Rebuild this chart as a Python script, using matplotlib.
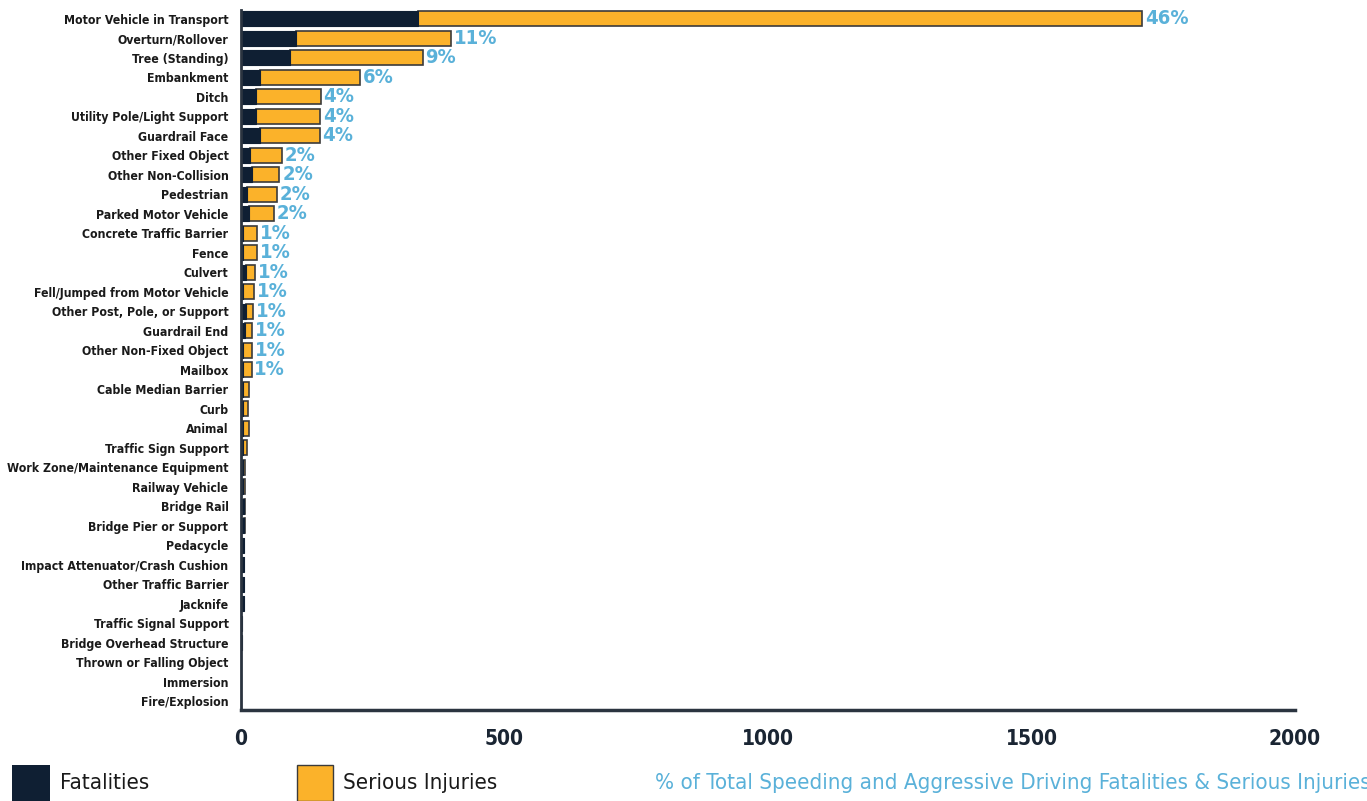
import matplotlib
matplotlib.use("Agg")
import matplotlib.pyplot as plt
from matplotlib.patches import Rectangle
from matplotlib import font_manager as fm

categories = [
    "Motor Vehicle in Transport", "Overturn/Rollover", "Tree (Standing)", "Embankment",
    "Ditch", "Utility Pole/Light Support", "Guardrail Face", "Other Fixed Object",
    "Other Non-Collision", "Pedestrian", "Parked Motor Vehicle", "Concrete Traffic Barrier",
    "Fence", "Culvert", "Fell/Jumped from Motor Vehicle", "Other Post, Pole, or Support",
    "Guardrail End", "Other Non-Fixed Object", "Mailbox", "Cable Median Barrier", "Curb",
    "Animal", "Traffic Sign Support", "Work Zone/Maintenance Equipment", "Railway Vehicle",
    "Bridge Rail", "Bridge Pier or Support", "Pedacycle", "Impact Attenuator/Crash Cushion",
    "Other Traffic Barrier", "Jacknife", "Traffic Signal Support", "Bridge Overhead Structure",
    "Thrown or Falling Object", "Immersion", "Fire/Explosion",
]
fatalities = [336, 104, 93, 37, 28, 28, 37, 18, 21, 12, 15, 4, 4, 9, 3, 9, 8, 4, 3, 3, 3,
              3, 3, 3, 4, 5, 5, 5, 5, 5, 5, 1, 1, 0, 0, 0]
serious = [1374, 294, 252, 189, 123, 122, 112, 59, 52, 56, 48, 27, 26, 18, 22, 14, 13, 17, 17,
           12, 11, 12, 9, 5, 4, 2, 2, 0, 0, 0, 0, 0, 0, 0, 0, 0]
pct_labels = ["46%", "11%", "9%", "6%", "4%", "4%", "4%", "2%", "2%", "2%", "2%",
              "1%", "1%", "1%", "1%", "1%", "1%", "1%", "1%"]
xticks = [0, 500, 1000, 1500, 2000]

# look for a condensed face
cond = None
for f in fm.fontManager.ttflist:
    nm = f.name
    if "Condensed" in nm or "Narrow" in nm or str(f.stretch) in ("condensed", "semi-condensed"):
        cond = nm
        break
if cond is None:
    fam = ["Roboto", "DejaVu Sans"]
    stretch = "normal"
    s = 0.85
else:
    fam = [cond, "DejaVu Sans"]
    stretch = "condensed"
    s = 1.0
plt.rcParams["font.family"] = fam
plt.rcParams["font.stretch"] = stretch

DARK = "#0f1f33"
ORANGE = "#fbb22a"
BLUE = "#5ab1d9"
EDGE = "#3b3b3b"

fig = plt.figure(figsize=(13.67, 8.01), dpi=100)
ax = fig.add_axes([241 / 1367, 1 - 710 / 801, (1295 - 241) / 1367, (710 - 10) / 801])

n = len(categories)
ys = list(range(n))
ax.barh(ys, serious, left=fatalities, height=0.75, color=ORANGE, edgecolor=EDGE, linewidth=1.2)
ax.barh(ys, fatalities, height=0.75, color=DARK, edgecolor=DARK, linewidth=0.8)
for y, lab in zip(ys, pct_labels):
    tot = fatalities[y] + serious[y]
    ax.annotate(lab, (tot, y), xytext=(2, 0), textcoords="offset points", va="center",
                ha="left", color=BLUE, fontsize=14.5 * s, fontweight="bold")

ax.set_ylim(n - 0.55, -0.45)
ax.set_xlim(0, 2000)
ax.set_yticks(ys)
ax.set_yticklabels(categories, fontsize=8.8 * s, fontweight="bold", color="#1a1a1a")
ax.set_xticks(xticks)
ax.set_xticklabels([str(t) for t in xticks], fontsize=15 * s, fontweight="bold",
                   color="#1a2533")
ax.tick_params(axis="y", length=0, pad=9)
ax.tick_params(axis="x", length=0, pad=14)
for sp in ["top", "right"]:
    ax.spines[sp].set_visible(False)
ax.spines["left"].set_color("#2b3440")
ax.spines["left"].set_linewidth(2)
ax.spines["bottom"].set_color("#2b3440")
ax.spines["bottom"].set_linewidth(2.5)

lfs = 16 * s
# legend
fig.add_artist(Rectangle((12 / 1367, 0), 38 / 1367, 36 / 801, transform=fig.transFigure,
                         facecolor=DARK, edgecolor="none"))
fig.text(60 / 1367, 18 / 801, "Fatalities", fontsize=lfs, va="center", ha="left", color="#1a1a1a")
fig.add_artist(Rectangle((297 / 1367, 0), 36 / 1367, 36 / 801, transform=fig.transFigure,
                         facecolor=ORANGE, edgecolor=EDGE, linewidth=1))
fig.text(343 / 1367, 18 / 801, "Serious Injuries", fontsize=lfs, va="center", ha="left", color="#1a1a1a")
fig.text(655 / 1367, 18 / 801, "% of Total Speeding and Aggressive Driving Fatalities & Serious Injuries",
         fontsize=lfs, va="center", ha="left", color=BLUE)

fig.savefig("out.png", dpi=100)
